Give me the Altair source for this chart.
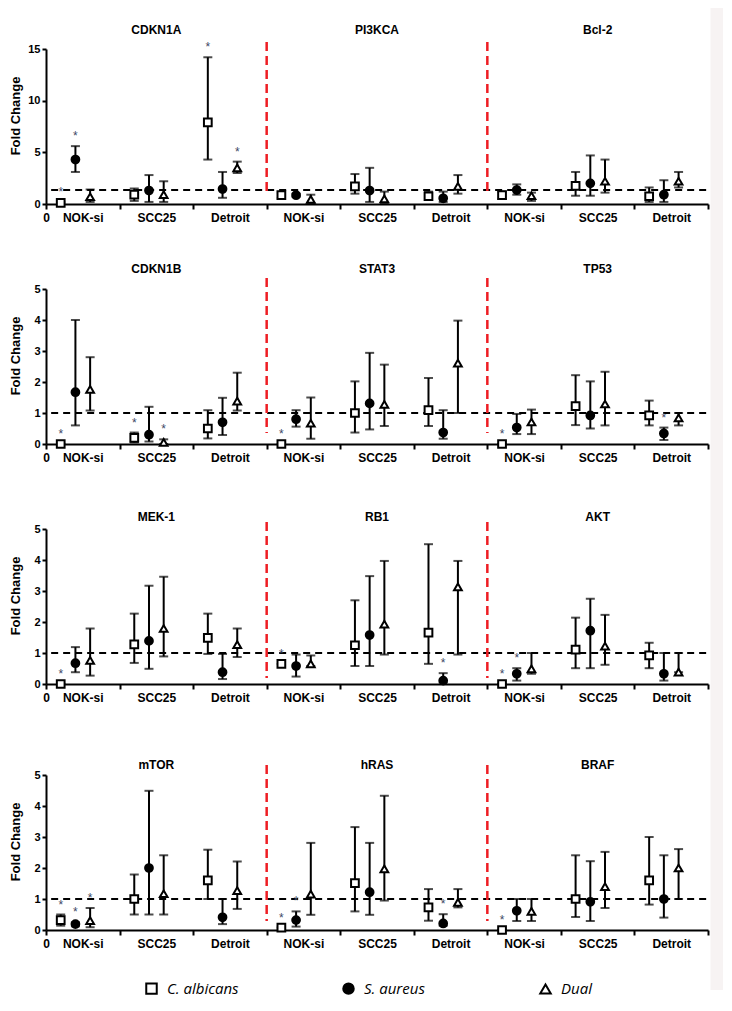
import altair as alt
import pandas as pd

cells = ["NOK-si", "SCC25", "Detroit"]
series = ["C. albicans", "S. aureus", "Dual"]
rows = [["CDKN1A", "PI3KCA", "Bcl-2"],
        ["CDKN1B", "STAT3", "TP53"],
        ["MEK-1", "RB1", "AKT"],
        ["mTOR", "hRAS", "BRAF"]]

# each array: rows = series (C. albicans, S. aureus, Dual); columns = NOK-si, SCC25, Detroit
cdkn1a_mean = [[0.1, 0.9, 7.9], [4.3, 1.3, 1.45], [0.7, 0.9, 3.5]]
cdkn1a_lo = [[0.0, 0.3, 4.3], [3.1, 0.2, 0.6], [0.2, 0.2, 3.0]]
cdkn1a_hi = [[0.2, 1.5, 14.2], [5.6, 2.8, 3.1], [1.4, 2.2, 4.1]]
cdkn1a_star = [[1, 0, 1], [1, 0, 0], [0, 0, 1]]

pi3kca_mean = [[0.85, 1.7, 0.75], [0.85, 1.3, 0.55], [0.45, 0.5, 1.7]]
pi3kca_lo = [[0.6, 1.0, 0.4], [0.7, 0.2, 0.2], [0.1, 0.1, 1.0]]
pi3kca_hi = [[1.1, 2.9, 1.2], [1.0, 3.5, 1.2], [0.9, 1.2, 2.8]]
pi3kca_star = [[0, 0, 0], [0, 0, 0], [0, 0, 0]]

bcl2_mean = [[0.85, 1.75, 0.75], [1.35, 2.0, 0.9], [0.8, 2.2, 2.2]]
bcl2_lo = [[0.5, 0.8, 0.2], [0.9, 0.8, 0.2], [0.3, 1.1, 1.6]]
bcl2_hi = [[1.2, 3.1, 1.6], [1.9, 4.7, 2.3], [1.1, 4.3, 3.1]]
bcl2_star = [[0, 0, 0], [0, 0, 0], [0, 0, 0]]

cdkn1b_mean = [[0.0, 0.2, 0.5], [1.67, 0.3, 0.7], [1.76, 0.05, 1.38]]
cdkn1b_lo = [[0.0, 0.05, 0.18], [0.6, 0.08, 0.29], [1.08, 0.0, 1.08]]
cdkn1b_hi = [[0.0, 0.37, 1.09], [4.0, 1.2, 1.49], [2.8, 0.15, 2.3]]
cdkn1b_star = [[1, 1, 0], [0, 0, 0], [0, 1, 0]]

stat3_mean = [[0.0, 1.0, 1.09], [0.8, 1.31, 0.37], [0.67, 1.28, 2.61]]
stat3_lo = [[0.0, 0.37, 0.58], [0.56, 0.47, 0.17], [0.17, 0.58, 1.0]]
stat3_hi = [[0.0, 2.02, 2.13], [1.09, 2.94, 1.09], [1.5, 2.56, 3.98]]
stat3_star = [[1, 0, 0], [0, 0, 0], [0, 0, 0]]

tp53_mean = [[0.0, 1.22, 0.92], [0.53, 0.92, 0.34], [0.71, 1.29, 0.84]]
tp53_lo = [[0.0, 0.61, 0.6], [0.32, 0.5, 0.13], [0.32, 0.6, 0.6]]
tp53_hi = [[0.0, 2.22, 1.4], [0.97, 2.02, 0.53], [1.11, 2.33, 1.0]]
tp53_star = [[1, 0, 0], [0, 0, 1], [0, 0, 0]]

mek1_mean = [[0.0, 1.28, 1.49], [0.67, 1.39, 0.38], [0.76, 1.79, 1.27]]
mek1_lo = [[0.0, 0.68, 0.97], [0.38, 0.49, 0.16], [0.27, 0.89, 0.87]]
mek1_hi = [[0.0, 2.27, 2.27], [1.19, 3.17, 0.97], [1.79, 3.46, 1.79]]
mek1_star = [[1, 0, 0], [0, 0, 0], [0, 0, 0]]

rb1_mean = [[0.65, 1.25, 1.66], [0.58, 1.58, 0.11], [0.65, 1.93, 3.13]]
rb1_lo = [[0.65, 0.58, 0.65], [0.24, 0.58, 0.05], [0.58, 0.95, 0.95]]
rb1_hi = [[0.65, 2.7, 4.51], [0.95, 3.48, 0.35], [0.92, 3.97, 3.97]]
rb1_star = [[1, 0, 0], [0, 0, 1], [0, 0, 0]]

akt_mean = [[0.0, 1.11, 0.92], [0.33, 1.72, 0.33], [0.49, 1.22, 0.38]]
akt_lo = [[0.0, 0.51, 0.51], [0.11, 0.51, 0.11], [0.33, 0.62, 0.38]]
akt_hi = [[0.0, 2.14, 1.33], [0.51, 2.75, 1.0], [1.0, 2.23, 1.0]]
akt_star = [[1, 0, 0], [1, 0, 0], [0, 0, 0]]

mtor_mean = [[0.32, 1.0, 1.6], [0.19, 2.0, 0.41], [0.3, 1.17, 1.27]]
mtor_lo = [[0.14, 0.5, 1.0], [0.12, 0.5, 0.19], [0.09, 0.5, 0.68]]
mtor_hi = [[0.5, 1.79, 2.59], [0.25, 4.49, 1.0], [0.71, 2.41, 2.21]]
mtor_star = [[1, 0, 0], [1, 0, 0], [1, 0, 0]]

hras_mean = [[0.08, 1.51, 0.73], [0.32, 1.22, 0.21], [1.16, 1.97, 0.89]]
hras_lo = [[0.08, 0.6, 0.3], [0.11, 0.49, 0.14], [0.49, 0.95, 0.73]]
hras_hi = [[0.08, 3.32, 1.32], [0.6, 2.81, 0.51], [2.81, 4.33, 1.32]]
hras_star = [[1, 0, 0], [1, 0, 1], [0, 0, 0]]

braf_mean = [[0.0, 1.0, 1.6], [0.62, 0.91, 1.0], [0.6, 1.4, 2.0]]
braf_lo = [[0.0, 0.42, 0.82], [0.29, 0.29, 0.4], [0.29, 0.71, 1.0]]
braf_hi = [[0.0, 2.41, 3.0], [1.0, 2.22, 2.41], [1.0, 2.52, 2.61]]
braf_star = [[1, 0, 0], [0, 0, 0], [0, 0, 0]]

row_ymax = [15, 5, 5, 5]
row_yticks = [[0, 5, 10, 15], [0, 1, 2, 3, 4, 5], [0, 1, 2, 3, 4, 5], [0, 1, 2, 3, 4, 5]]
ref_line = [1.35, 1, 1, 1]

GENES = {
    "CDKN1A": (cdkn1a_mean, cdkn1a_lo, cdkn1a_hi, cdkn1a_star),
    "PI3KCA": (pi3kca_mean, pi3kca_lo, pi3kca_hi, pi3kca_star),
    "Bcl-2": (bcl2_mean, bcl2_lo, bcl2_hi, bcl2_star),
    "CDKN1B": (cdkn1b_mean, cdkn1b_lo, cdkn1b_hi, cdkn1b_star),
    "STAT3": (stat3_mean, stat3_lo, stat3_hi, stat3_star),
    "TP53": (tp53_mean, tp53_lo, tp53_hi, tp53_star),
    "MEK-1": (mek1_mean, mek1_lo, mek1_hi, mek1_star),
    "RB1": (rb1_mean, rb1_lo, rb1_hi, rb1_star),
    "AKT": (akt_mean, akt_lo, akt_hi, akt_star),
    "mTOR": (mtor_mean, mtor_lo, mtor_hi, mtor_star),
    "hRAS": (hras_mean, hras_lo, hras_hi, hras_star),
    "BRAF": (braf_mean, braf_lo, braf_hi, braf_star),
}

# ---- layout / style ----
W, H = 662, 155
SER_OFF = [0.2, 0.4, 0.6]
TOP_EXT = [41, 45, 45, 51]
BOT_EXT = [40, 40, 40, 60]
TITLE_OFF = [19, 20, 12, 10]
RED_TOP = [7, 11, 7, 10]
RED_BOT = [8, 11, 6, 9]
FONT = "Liberation Sans"
RED = "#ee1d23"
STRIP = "#f7f3f3"

xvals = [i * 0.5 for i in range(19)]
cell_js = "[" + ",".join("'%s'" % c for c in cells) + "]"
label_expr = ("datum.value == 0 ? '0' : (datum.value % 1 == 0.5 ? " + cell_js +
              "[floor(datum.value) % 3] : '')")

xaxis = alt.Axis(values=xvals, labelExpr=label_expr, title=None, grid=False,
                 domainColor="black", domainWidth=2, tickColor="black", tickWidth=2,
                 tickSize=5,
                 tickOpacity={"condition": {"test": "datum.value % 1 != 0", "value": 0}, "value": 1},
                 labelFont=FONT, labelFontWeight="bold", labelFontSize=12, labelColor="black",
                 labelPadding=3, labelFlush=False, labelOverlap=False)
xscale = alt.Scale(domain=[0, 9], nice=False, zero=False)

legend = alt.Legend(title=None, orient="none", legendX=98, legendY=932,
                    direction="horizontal", columns=3, gridAlign="all", columnPadding=100,
                    symbolSize=110, symbolStrokeWidth=2, symbolStrokeColor="black",
                    labelFont="Open Sans", labelFontStyle="italic", labelFontSize=15,
                    labelColor="black", labelOffset=8)


def make_row(r):
    genes = rows[r]
    recs = []
    for c, g in enumerate(genes):
        m, lo, hi, st = GENES[g]
        for si, ser in enumerate(series):
            for k, cell in enumerate(cells):
                recs.append(dict(gene=g, series=ser, cell=cell,
                                 x=3 * c + k + SER_OFF[si],
                                 mean=m[si][k], lo=lo[si][k], hi=hi[si][k], star=st[si][k]))
    df = pd.DataFrame(recs)

    yscale = alt.Scale(domain=[0, row_ymax[r]], nice=False, zero=True)
    yaxis = alt.Axis(values=row_yticks[r], title="Fold Change", titleX=-24, titleY=H / 2 - 11,
                     titleFont=FONT, titleFontSize=13, titleFontWeight="bold", titleColor="black",
                     labelFont=FONT, labelFontSize=11, labelFontWeight="bold", labelColor="black",
                     labelPadding=2, tickSize=4, tickWidth=2, tickColor="black",
                     domainColor="black", domainWidth=2, grid=False)
    X = alt.X("x:Q", scale=xscale, axis=xaxis)

    base = alt.Chart(df)
    one = pd.DataFrame({"k": [0]})
    bounds = alt.Chart(one).mark_rule(opacity=0).encode(
        x=alt.value(0), y=alt.value(-TOP_EXT[r]), y2=alt.value(H + BOT_EXT[r]))
    strip = alt.Chart(one).mark_rect(color=STRIP).encode(
        x=alt.value(W + 2.5), x2=alt.value(W + 15),
        y=alt.value(-TOP_EXT[r]), y2=alt.value(H + BOT_EXT[r]))

    ref = alt.Chart(pd.DataFrame({"ref": [ref_line[r]], "x0": [0.07], "x1": [9]})).mark_rule(
        color="black", strokeWidth=2, strokeDash=[7, 5]).encode(
        x=alt.X("x0:Q", scale=xscale, axis=xaxis), x2="x1:Q",
        y=alt.Y("ref:Q", scale=yscale, axis=yaxis))

    seps = alt.Chart(pd.DataFrame({"b": [3, 6]})).mark_rule(
        color=RED, strokeWidth=2.5, strokeDash=[9, 5]).encode(
        x=alt.X("b:Q", scale=xscale, axis=xaxis),
        y=alt.value(-RED_TOP[r]), y2=alt.value(H - RED_BOT[r]))

    bars = base.mark_rule(color="black", strokeWidth=2).encode(
        x=X, y=alt.Y("lo:Q", scale=yscale, axis=yaxis), y2="hi:Q")
    cap_lo = base.mark_tick(orient="horizontal", size=9, thickness=2, color="black").encode(
        x=X, y=alt.Y("lo:Q", scale=yscale, axis=yaxis))
    cap_hi = base.mark_tick(orient="horizontal", size=9, thickness=2, color="black").encode(
        x=X, y=alt.Y("hi:Q", scale=yscale, axis=yaxis))

    pts = base.mark_point(strokeWidth=2, opacity=1, fillOpacity=1, size=60).encode(
        x=X, y=alt.Y("mean:Q", scale=yscale, axis=yaxis),
        shape=alt.Shape("series:N", scale=alt.Scale(domain=series, range=["square", "circle", "triangle-up"]),
                        legend=legend),
        fill=alt.Fill("series:N", scale=alt.Scale(domain=series, range=["white", "black", "white"]),
                      legend=legend),
        stroke=alt.Stroke("series:N", scale=alt.Scale(domain=series, range=["black", "black", "black"]),
                          legend=legend))

    stars = base.transform_filter("datum.star == 1").mark_text(
        text="*", dy=-10, fontSize=12, font=FONT, color="#3d4866").encode(
        x=X, y=alt.Y("hi:Q", scale=yscale, axis=yaxis))

    titles = alt.Chart(pd.DataFrame({"gene": genes, "pos": [3 * c + 1.5 for c in range(3)]})).mark_text(
        font=FONT, fontWeight="bold", fontSize=12, color="black").encode(
        x=alt.X("pos:Q", scale=xscale, axis=xaxis), y=alt.value(-TITLE_OFF[r]), text="gene:N")

    return alt.layer(bounds, strip, ref, seps, bars, cap_lo, cap_hi, pts, stars, titles).properties(
        width=W, height=H)


chart = alt.vconcat(*[make_row(r) for r in range(4)], spacing=0).properties(
    padding={"left": 0, "top": 0, "right": 0, "bottom": 0}
).configure_view(stroke=None)

chart.save("out.html", embed_options={"renderer": "svg", "actions": False})
